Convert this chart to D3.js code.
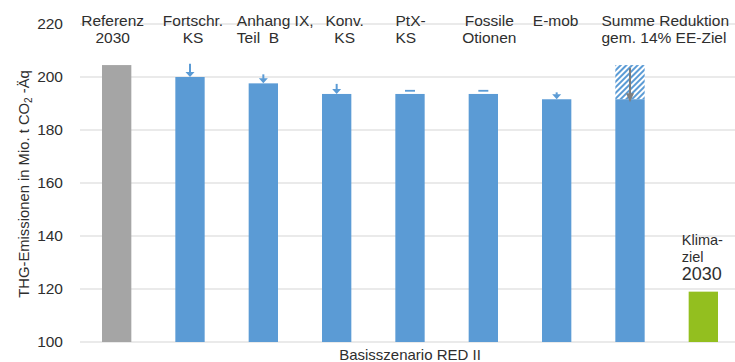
<!DOCTYPE html>
<html><head><meta charset="utf-8">
<script src="https://cdn.jsdelivr.net/npm/d3@7/dist/d3.min.js"></script>
<style>
html,body{margin:0;padding:0;background:#fff;}
svg{display:block;font-family:"Liberation Sans",Arial,sans-serif;}
</style></head>
<body><svg id="chart" width="735" height="362"></svg>
<script>
// ---- data ----
const categories = ["Referenz 2030","Fortschr. KS","Anhang IX, Teil B","Konv. KS","PtX-KS","Fossile Otionen","E-mob","Summe Reduktion gem. 14% EE-Ziel","Klimaziel 2030"];
const labelLines = [["Referenz","2030"],["Fortschr.","KS"],["Anhang IX,","Teil\u00a0\u00a0B"],["Konv.","KS"],["PtX-","KS"],["Fossile","Otionen"],["E-mob"],["Summe Reduktion","gem. 14% EE-Ziel"],["Klima-","ziel","2030"]];
const values = [204.5, 200, 197.6, 193.6, 193.6, 193.6, 191.6, 191.6, 119];
const arrowFrom = [null, 205, 201, 197.4, 194.8, 194.8, 194.2, 204.5, null];
const hatchTop = [null, null, null, null, null, null, null, 204.5, null];
const kinds = ["ref","step","step","step","step","step","step","sum","goal"];
const yTicks = [100,120,140,160,180,200,220];
const yTitle = "THG-Emissionen in Mio. t CO";
const xTitle = "Basisszenario RED II";

// ---- layout ----
const W = 735, H = 362;
const x = d3.scaleBand().domain(categories).range([80, 740]).paddingInner(0.6).paddingOuter(0.3);
const y = d3.scaleLinear().domain([100, 220]).range([342, 24]);
const colors = {ref:"#a5a5a5", step:"#5b9bd5", sum:"#5b9bd5", goal:"#93bf1f"};
const txt = "#2e2e2e";
const labelPos = [ // anchor, dx from band centre
  ["middle",-4],["middle",3],["start",-26.5],["middle",8],["start",-14.5],["middle",6],["middle",-1],["start",-28.5],["start",-21.5]
];
const svg = d3.select("#chart");
const defs = svg.append("defs");
const pat = defs.append("pattern").attr("id","hatch").attr("patternUnits","userSpaceOnUse")
  .attr("width",4).attr("height",4).attr("patternTransform","rotate(45)");
pat.append("rect").attr("width",4).attr("height",4).attr("fill","#fff");
pat.append("rect").attr("width",2).attr("height",4).attr("fill","#5b9bd5");

// grid
const grid = svg.append("g");
grid.selectAll("line").data(yTicks).join("line")
  .attr("x1",80).attr("x2",W).attr("y1",d=>y(d)).attr("y2",d=>y(d))
  .attr("stroke","#e3e3e3").attr("stroke-width",1.3);

// y axis ticks
const yAxis = d3.axisLeft(y).tickValues(yTicks).tickSize(0).tickPadding(0);
const ya = svg.append("g").attr("transform","translate(63,0)").call(yAxis);
ya.select(".domain").remove();
ya.selectAll("text").attr("font-size",15.5).attr("fill",txt).attr("font-family","Liberation Sans, Arial, sans-serif");

// y title
const yt = svg.append("text").attr("transform","translate(29,184) rotate(-90)")
  .attr("text-anchor","middle").attr("font-size",14.8).attr("fill",txt);
yt.append("tspan").text(yTitle);
yt.append("tspan").text("2").attr("font-size",10).attr("dy",3);
yt.append("tspan").text(" -Äq").attr("dy",-3);

// bars
const bw = x.bandwidth();
svg.selectAll("rect.hatch").data(categories.filter((c,i)=>hatchTop[i]!=null)).join("rect")
  .attr("class","hatch")
  .attr("x",c=>x(c)).attr("width",bw)
  .attr("y",c=>y(hatchTop[categories.indexOf(c)]))
  .attr("height",c=>{const i=categories.indexOf(c);return y(values[i])-y(hatchTop[i]);})
  .attr("fill","url(#hatch)");
svg.selectAll("rect.bar").data(categories).join("rect").attr("class","bar")
  .attr("x",c=>x(c)).attr("width",bw)
  .attr("y",(c,i)=>y(values[i])).attr("height",(c,i)=>y(100)-y(values[i]))
  .attr("fill",(c,i)=>colors[kinds[i]]);

// step arrows
categories.forEach((c,i)=>{
  if(arrowFrom[i]==null) return;
  const cx = x(c)+bw/2;
  const y0 = y(arrowFrom[i]), y1 = y(values[i]);
  if(kinds[i]==="sum"){
    const tip = y1+3;
    svg.append("line").attr("x1",cx).attr("x2",cx).attr("y1",y0+3).attr("y2",tip-8)
      .attr("stroke","#7f7f7f").attr("stroke-width",2);
    svg.append("path").attr("d",`M${cx-4},${tip-9} L${cx+4},${tip-9} L${cx},${tip} Z`).attr("fill","#7f7f7f");
    return;
  }
  const col = colors[kinds[i]];
  if(arrowFrom[i]-values[i] < 1.5){
    svg.append("line").attr("x1",cx-5).attr("x2",cx+5).attr("y1",y0).attr("y2",y0)
      .attr("stroke",col).attr("stroke-width",1.8);
    return;
  }
  const hh = Math.min(5, y1-y0);
  svg.append("line").attr("x1",cx).attr("x2",cx).attr("y1",y0).attr("y2",y1-hh+0.5)
    .attr("stroke",col).attr("stroke-width",2);
  svg.append("path").attr("d",`M${cx-4.5},${y1-hh} L${cx+4.5},${y1-hh} L${cx},${y1} Z`).attr("fill",col);
});

// category labels
categories.forEach((c,i)=>{
  const [anchor,dx] = labelPos[i];
  const cx = x(c)+bw/2+dx;
  const t = svg.append("text").attr("text-anchor",anchor).attr("fill",txt).attr("font-size",15.5);
  if(kinds[i]==="goal"){
    const ys=[245,262,280], fs=[14.5,14.5,18];
    labelLines[i].forEach((l,k)=>t.append("tspan").attr("x",cx).attr("y",ys[k]).attr("font-size",fs[k]).text(l));
  } else {
    labelLines[i].forEach((l,k)=>t.append("tspan").attr("x",cx).attr("y",26+k*17).text(l));
  }
});

// x title
svg.append("text").attr("x",(x(categories[1])+x(categories[7])+bw)/2).attr("y",360)
  .attr("text-anchor","middle").attr("font-size",15).attr("fill",txt).text(xTitle);
</script></body></html>
